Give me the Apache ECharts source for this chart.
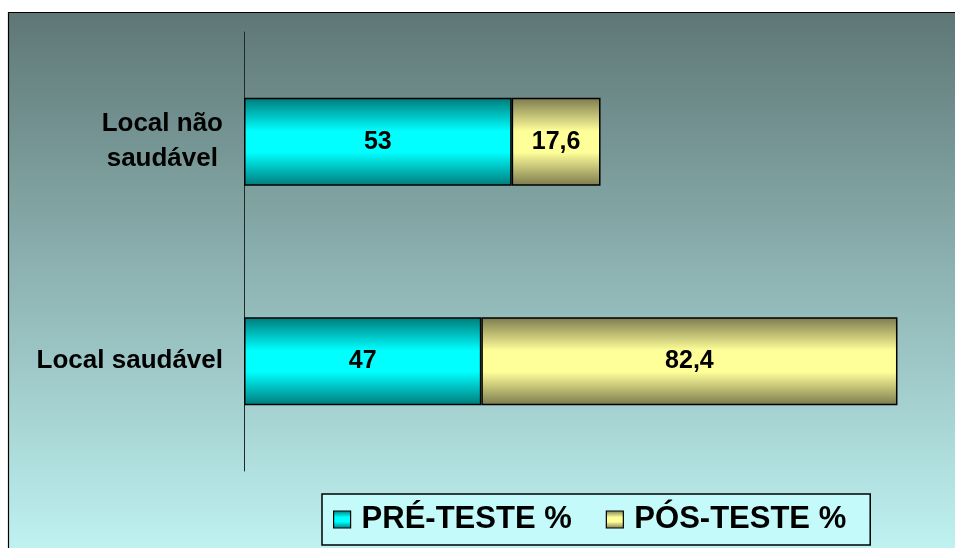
<!DOCTYPE html>
<html>
<head>
<meta charset="utf-8">
<script src="https://cdn.jsdelivr.net/npm/echarts@6/dist/echarts.min.js"></script>
<style>
  html, body { margin: 0; padding: 0; background: #ffffff; }
  #chart { width: 955px; height: 548px; }
</style>
</head>
<body>
<div id="chart"></div>
<script>
// Categories (bottom to top on the category axis)
const categories = ['Local saudável', 'Local não saudável'];
// Series names and values (%)
const seriesNames = ['PRÉ-TESTE %', 'PÓS-TESTE %'];
const preTeste = [47, 53];
const posTeste = [82.4, 17.6];

const FONT = '"Liberation Sans", Arial, sans-serif';

function band(dark, light) {
  return new echarts.graphic.LinearGradient(0, 0, 0, 1, [
    { offset: 0, color: dark },
    { offset: 0.38, color: light },
    { offset: 0.62, color: light },
    { offset: 1, color: dark }
  ]);
}

const cyanFill = band('#007a7a', '#00ffff');
const khakiFill = band('#7c7a4e', '#ffff99');

const chart = echarts.init(document.getElementById('chart'), null, { renderer: 'canvas' });

const valueLabel = {
  show: true,
  position: 'inside',
  color: '#000',
  fontFamily: FONT,
  fontWeight: 'bold',
  fontSize: 25,
  formatter: p => String(p.value).replace('.', ',')
};

chart.setOption({
  backgroundColor: '#ffffff',
  animation: false,
  graphic: [{
    type: 'rect',
    z: -10,
    silent: true,
    shape: { x: 8.5, y: 12.5, width: 980, height: 580 },
    style: {
      fill: new echarts.graphic.LinearGradient(0, 0, 0, 1, [
        { offset: 0, color: '#5e7776' },
        { offset: 1, color: '#c6fcfb' }
      ]),
      stroke: '#000',
      lineWidth: 1.2
    }
  }],
  grid: { left: 244, top: 32, width: 707, height: 439 },
  xAxis: {
    type: 'value',
    min: 0,
    max: 140,
    show: false
  },
  yAxis: {
    type: 'category',
    data: categories,
    axisLine: { show: true, lineStyle: { color: '#1f2a2a', width: 1 } },
    axisTick: { show: false },
    splitLine: { show: false },
    axisLabel: {
      margin: 21,
      align: 'right',
      color: '#000',
      fontFamily: FONT,
      fontWeight: 'bold',
      fontSize: 26,
      lineHeight: 35,
      formatter: v => v === 'Local não saudável'
        ? '{c|Local não}\n{c|saudável}'
        : '{c|' + v + '}',
      rich: {
        c: {
          align: 'center',
          color: '#000',
          fontFamily: FONT,
          fontWeight: 'bold',
          fontSize: 26,
          lineHeight: 35
        }
      }
    }
  },
  legend: {
    data: seriesNames,
    left: 322,
    top: 494,
    orient: 'horizontal',
    padding: [10, 24, 10, 11],
    itemGap: 34,
    itemWidth: 17,
    itemHeight: 17,
    icon: 'rect',
    backgroundColor: '#c4fafa',
    borderColor: '#000',
    borderWidth: 1.5,
    borderRadius: 0,
    itemStyle: { borderColor: '#000', borderWidth: 1.2 },
    textStyle: {
      color: '#000',
      fontFamily: FONT,
      fontWeight: 'bold',
      fontSize: 31,
      padding: [0, 0, 0, 6]
    }
  },
  series: [
    {
      name: seriesNames[0],
      type: 'bar',
      stack: 'total',
      data: preTeste,
      barWidth: 88,
      itemStyle: { color: cyanFill, borderColor: '#000', borderWidth: 1.5 },
      label: valueLabel
    },
    {
      name: seriesNames[1],
      type: 'bar',
      stack: 'total',
      data: posTeste,
      barWidth: 88,
      itemStyle: { color: khakiFill, borderColor: '#000', borderWidth: 1.5 },
      label: valueLabel
    }
  ]
});
</script>
</body>
</html>
